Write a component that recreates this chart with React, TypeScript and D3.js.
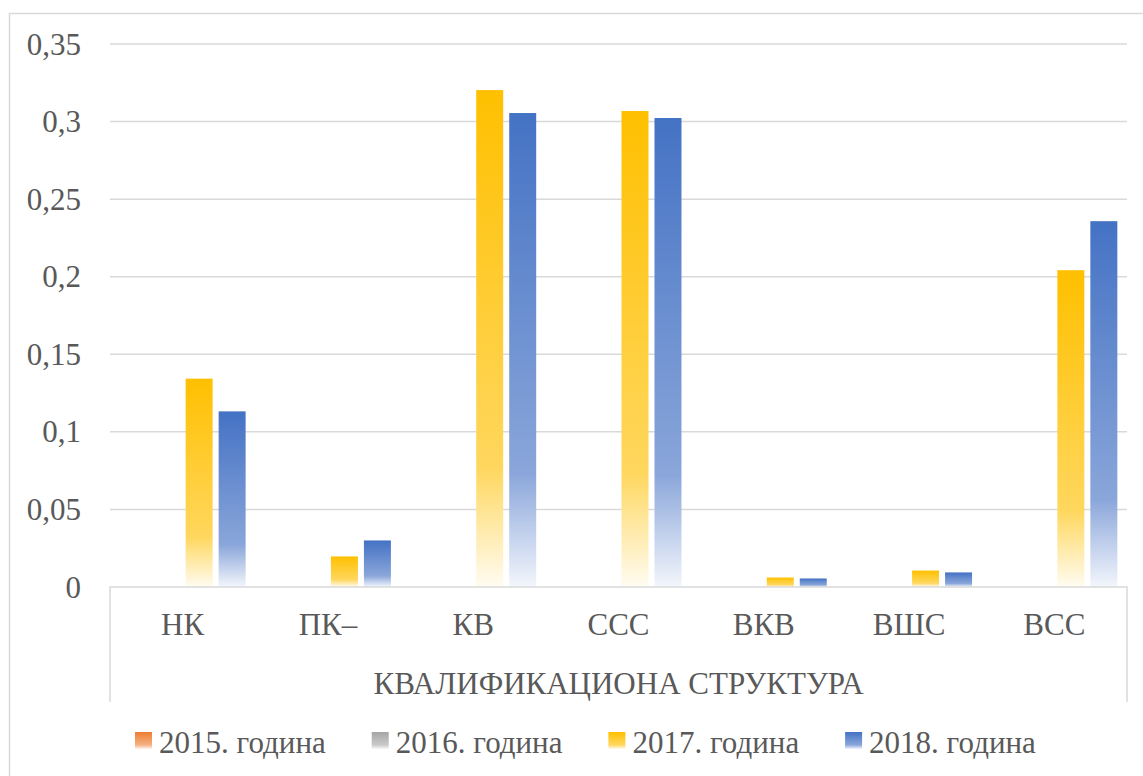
import React from "react";
import * as d3 from "d3";

const categories = ["НК", "ПК–", "КВ", "ССС", "ВКВ", "ВШС", "ВСС"];
const seriesNames = ["2015. година", "2016. година", "2017. година", "2018. година"];
const values2015 = [0, 0, 0, 0, 0, 0, 0];
const values2016 = [0, 0, 0, 0, 0, 0, 0];
const values2017 = [0.1343, 0.0197, 0.3203, 0.3068, 0.0061, 0.0106, 0.2042];
const values2018 = [0.1132, 0.03, 0.3055, 0.3023, 0.0055, 0.0094, 0.2358];
const tickValues = [0, 0.05, 0.1, 0.15, 0.2, 0.25, 0.3, 0.35];
const tickLabels = ["0", "0,05", "0,1", "0,15", "0,2", "0,25", "0,3", "0,35"];
const axisTitle = "КВАЛИФИКАЦИОНА СТРУКТУРА";

const seriesValues = [values2015, values2016, values2017, values2018];
const seriesColors = ["#ED7D31", "#A5A5A5", "#FFC000", "#4472C4"];
const seriesMid = ["#F4B183", "#C9C9C9", "#FFD75E", "#8AA6DA"];
const seriesEnd = ["#FEF6F0", "#F8F8F8", "#FFFCF2", "#F3F6FC"];

const W = 1143;
const H = 776;
const plotLeft = 110;
const plotRight = 1127;
const plotTop = 44;
const plotBottom = 587;
const textColor = "#595959";
const gridColor = "#D9D9D9";
const font = "'Liberation Serif', 'Times New Roman', serif";

export default function App() {
  const x0 = d3.scaleBand<string>().domain(categories).range([plotLeft, plotRight]).padding(0);
  const x1 = d3
    .scaleBand<number>()
    .domain(d3.range(seriesNames.length))
    .range([0, x0.bandwidth()])
    .paddingInner(0.182)
    .paddingOuter(0.293);
  const y = d3.scaleLinear().domain([0, 0.35]).range([plotBottom, plotTop]);

  const legendStep = 236.7;
  const legendX0 = 135;

  return (
    <svg
      width={W}
      height={H}
      style={{ position: "absolute", left: 0, top: 0, background: "#fff" }}
      fontFamily={font}
    >
      <defs>
        {seriesColors.map((c, i) => (
          <linearGradient key={i} id={`grad${i}`} x1="0" y1="0" x2="0" y2="1">
            <stop offset="0" stopColor={c} />
            <stop offset="0.76" stopColor={seriesMid[i]} />
            <stop offset="1" stopColor={seriesEnd[i]} />
          </linearGradient>
        ))}
      </defs>
      <rect x={9.5} y={13.5} width={W + 20} height={H + 20} fill="#fff" stroke={gridColor} strokeWidth={1.5} />

      {tickValues.map((t, i) => (
        <g key={i}>
          {t > 0 && (
            <line x1={plotLeft} x2={plotRight} y1={y(t)} y2={y(t)} stroke={gridColor} strokeWidth={1.5} />
          )}
          <text
            x={81}
            y={y(t)}
            textAnchor="end"
            dominantBaseline="central"
            fontSize={31}
            fill={textColor}
          >
            {tickLabels[i]}
          </text>
        </g>
      ))}

      {categories.map((cat, ci) => (
        <g key={cat} transform={`translate(${x0(cat)},0)`}>
          {seriesValues.map((vals, si) => {
            const v = vals[ci];
            if (v <= 0) return null;
            return (
              <rect
                key={si}
                x={x1(si)}
                y={y(v)}
                width={x1.bandwidth()}
                height={y(0) - y(v)}
                fill={`url(#grad${si})`}
              />
            );
          })}
          <text
            x={x0.bandwidth() / 2}
            y={624}
            textAnchor="middle"
            dominantBaseline="central"
            fontSize={31}
            fill={textColor}
          >
            {cat}
          </text>
        </g>
      ))}

      <path
        d={`M${plotLeft},702V${plotBottom}H${plotRight}V702`}
        fill="none"
        stroke={gridColor}
        strokeWidth={1.5}
      />
      <text
        x={(plotLeft + plotRight) / 2}
        y={683}
        textAnchor="middle"
        dominantBaseline="central"
        fontSize={31}
        fill={textColor}
      >
        {axisTitle}
      </text>

      {seriesNames.map((name, i) => (
        <g key={name} transform={`translate(${legendX0 + i * legendStep},0)`}>
          <rect x={0} y={732} width={17} height={17} fill={`url(#grad${i})`} />
          <text x={24} y={742} dominantBaseline="central" fontSize={31} fill={textColor}>
            {name}
          </text>
        </g>
      ))}
    </svg>
  );
}
